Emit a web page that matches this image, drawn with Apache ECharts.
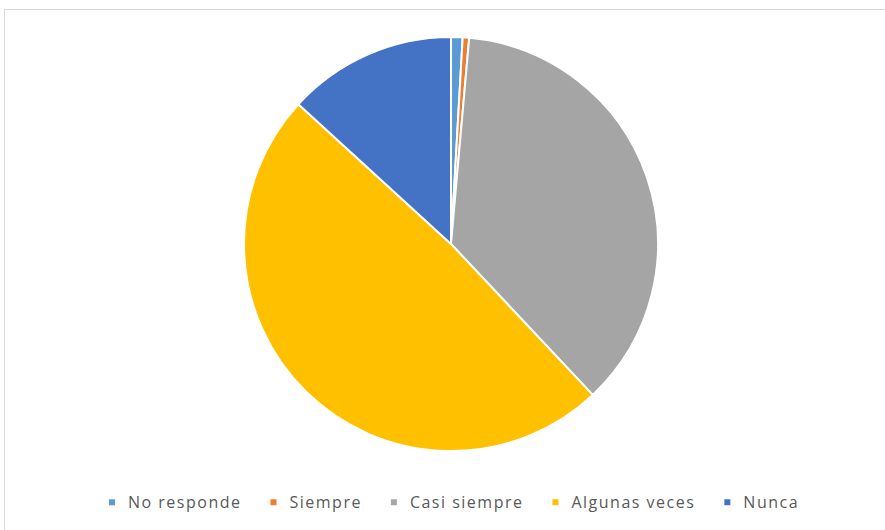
<!DOCTYPE html>
<html>
<head>
<meta charset="utf-8">
<script src="https://cdn.jsdelivr.net/npm/echarts@6/dist/echarts.min.js"></script>
<style>
  html, body { margin: 0; padding: 0; background: #fff; }
  #frame {
    position: absolute; left: 4px; top: 9px; width: 900px; height: 540px;
    border: 1px solid #d9d9d9; box-sizing: border-box;
  }
  #chart { position: absolute; left: 0; top: 0; width: 885px; height: 530px; }
  /* Excel-style wide legend text */
  #chart svg text { letter-spacing: 1.5px; }
</style>
</head>
<body>
<div id="frame"></div>
<div id="chart"></div>
<script>
const categories = ['No responde', 'Siempre', 'Casi siempre', 'Algunas veces', 'Nunca']
const values = [0.9, 0.5, 36.6, 48.8, 13.2]
const colors = ['#5B9BD5', '#ED7D31', '#A5A5A5', '#FFC000', '#4472C4']

const SPACING = 1.5

// keep legend layout in step with the css letter-spacing
const measureCtx = document.createElement('canvas').getContext('2d')
echarts.setPlatformAPI({
  measureText(text, font) {
    measureCtx.font = font
    const m = measureCtx.measureText(text)
    return { width: m.width + SPACING * text.length }
  }
})

const chart = echarts.init(document.getElementById('chart'), null, { renderer: 'svg' })
chart.setOption({
  animation: false,
  color: colors,
  legend: {
    bottom: 14,
    left: 102,
    icon: 'rect',
    itemWidth: 8,
    itemHeight: 8,
    itemGap: 27,
    textStyle: {
      color: '#595959',
      fontSize: 16,
      fontFamily: 'Open Sans',
      padding: [0, 0, 0, 7]
    },
    data: categories
  },
  series: [
    {
      type: 'pie',
      center: [451, 244],
      radius: 207,
      startAngle: 90,
      clockwise: true,
      label: { show: false },
      labelLine: { show: false },
      itemStyle: { borderColor: '#fff', borderWidth: 2 },
      data: categories.map((name, i) => ({ name, value: values[i] }))
    }
  ]
})
</script>
</body>
</html>
